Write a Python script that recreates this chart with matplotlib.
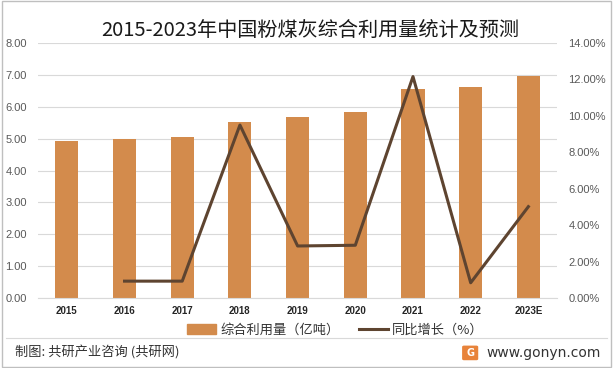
import matplotlib
matplotlib.use("Agg")
import matplotlib.pyplot as plt
from matplotlib.patches import Rectangle, FancyBboxPatch
from matplotlib.lines import Line2D

plt.rcParams['font.family'] = ['Noto Sans CJK SC', 'DejaVu Sans']

years = ['2015', '2016', '2017', '2018', '2019', '2020', '2021', '2022', '2023E']
usage = [4.92, 4.98, 5.05, 5.52, 5.67, 5.83, 6.55, 6.61, 6.97]
growth_years = ['2016', '2017', '2018', '2019', '2020', '2021', '2022', '2023E']
growth = [0.93, 0.93, 9.5, 2.86, 2.9, 12.16, 0.84, 5.02]
left_ticks = [0, 1, 2, 3, 4, 5, 6, 7, 8]
right_ticks = [0, 2, 4, 6, 8, 10, 12, 14]

bar_color = '#D38B4C'
line_color = '#5E4430'
grid_color = '#D9D9D9'
text_color = '#595959'

fig = plt.figure(figsize=(6.13, 3.68), dpi=100)
fig.patches.append(Rectangle((0.003, 0.003), 0.994, 0.994, transform=fig.transFigure,
                             fill=False, edgecolor='#BFBFBF', linewidth=1))

ax = fig.add_axes([0.062, 0.190, 0.847, 0.693])
x = list(range(len(years)))
ax.bar(x, usage, width=0.40, color=bar_color, zorder=2)
ax.set_xlim(-0.5, len(years) - 0.5)
ax.set_ylim(0, 8)
ax.set_yticks(left_ticks)
ax.set_yticklabels([f'{v:.2f}' for v in left_ticks], fontsize=8, color=text_color,
                   family=['Liberation Sans', 'DejaVu Sans'])
ax.set_xticks(x)
ax.set_xticklabels(years, fontsize=7, color='#262626', fontweight='bold',
                   family=['Liberation Sans', 'DejaVu Sans'])
ax.yaxis.grid(True, color=grid_color, linewidth=0.8, zorder=0)
ax.tick_params(length=0, pad=6)
ax.tick_params(axis='y', pad=8)
for s in ax.spines.values():
    s.set_visible(False)
ax.spines['bottom'].set_visible(True)
ax.spines['bottom'].set_color(grid_color)

ax2 = ax.twinx()
gx = [years.index(y) for y in growth_years]
ax2.plot(gx, growth, color=line_color, linewidth=2.2, zorder=3)
ax2.set_ylim(0, 14)
ax2.set_yticks(right_ticks)
ax2.set_yticklabels([f'{v:.2f}%' for v in right_ticks], fontsize=8, color=text_color,
                    family=['Liberation Sans', 'DejaVu Sans'])
ax2.tick_params(length=0, pad=8)
for s in ax2.spines.values():
    s.set_visible(False)

fig.text(0.506, 0.918, '2015-2023年中国粉煤灰综合利用量统计及预测', ha='center', va='center',
         fontsize=14.5, color='#1a1a1a', fontweight='light')

handles = [Rectangle((0, 0), 1, 1, color=bar_color),
           Line2D([0], [0], color=line_color, linewidth=2.2)]
fig.legend(handles, ['综合利用量（亿吨）', '同比增长（%）'], loc='center',
           bbox_to_anchor=(0.547, 0.103), ncol=2, frameon=False, fontsize=9.5,
           handlelength=2.2, handleheight=0.8, columnspacing=1.5, handletextpad=0.3,
           labelcolor='#333333')

fig.add_artist(Line2D([0.01, 0.99], [0.082, 0.082], transform=fig.transFigure,
                      color='#D9D9D9', linewidth=0.8))
fig.text(0.024, 0.041, '制图: 共研产业咨询 (共研网)', ha='left', va='center',
         fontsize=9.5, color='#333333')
fig.text(0.98, 0.041, 'www.gonyn.com', ha='right', va='center',
         fontsize=10, color='#333333', family=['DejaVu Sans'])
fig.patches.append(FancyBboxPatch((0.757, 0.025), 0.020, 0.032, transform=fig.transFigure,
                                  boxstyle='round,pad=0.002', color='#E8833A'))
fig.text(0.767, 0.041, 'G', ha='center', va='center', fontsize=7, color='white',
         fontweight='bold', family=['DejaVu Sans'])

fig.savefig('out.png', dpi=100)
